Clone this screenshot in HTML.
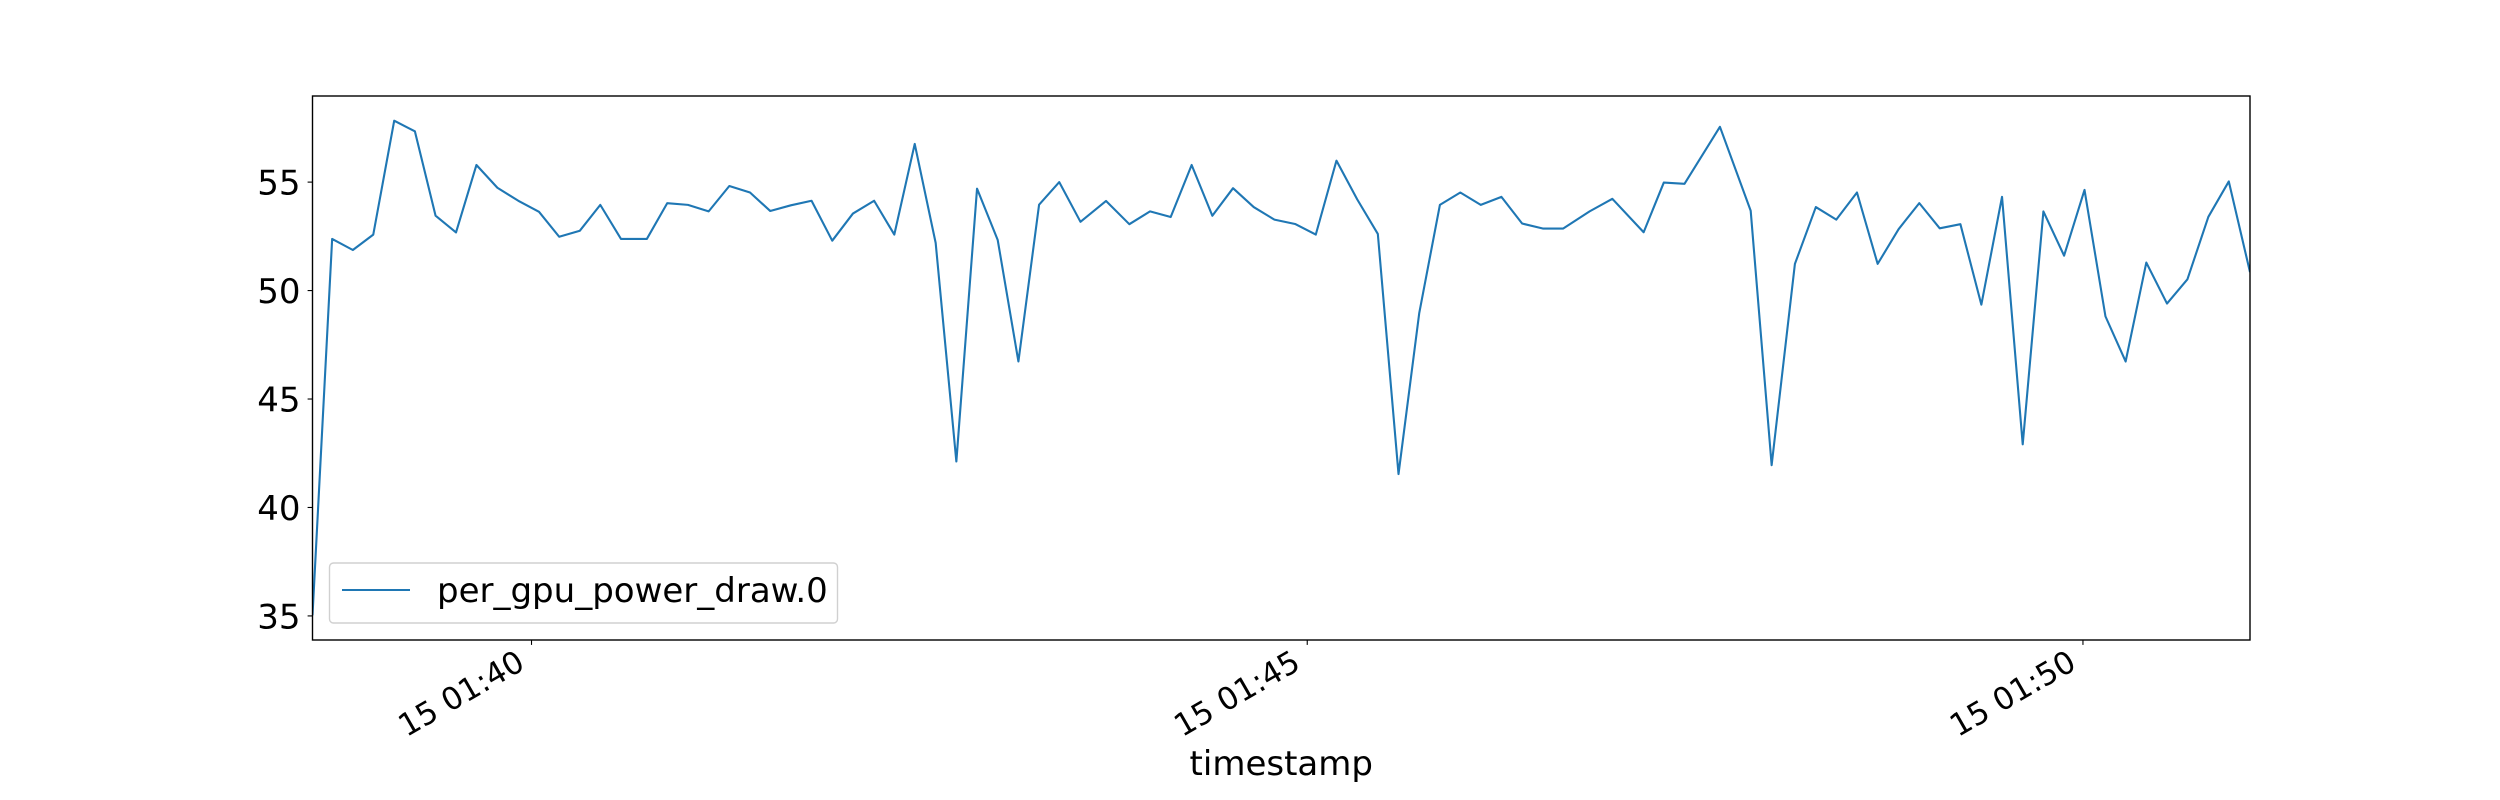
<!DOCTYPE html>
<html><head><meta charset="utf-8"><style>
html,body{margin:0;padding:0;background:#fff;}
svg{display:block;font-family:"DejaVu Sans","Liberation Sans",sans-serif;}
</style></head><body>
<svg id="chart" width="2500" height="800" viewBox="0 0 2500 800" xmlns="http://www.w3.org/2000/svg">
<rect x="0" y="0" width="2500" height="800" fill="#fff"/>
<g id="plot"></g>
</svg>
<script>
// seconds relative to 01:40:00
const timesSec = [-84.7,-77.1,-69.1,-61.2,-53.1,-45.1,-37.1,-29.2,-21.3,-13.2,-5.1,2.9,10.7,18.7,26.6,34.6,44.6,52.5,60.5,68.5,76.5,84.5,92.3,100.3,
108.3,116.3,124.3,132.5,140.3,148.2,156.3,164.3,172.3,180.3,188.3,196.3,204.1,212.3,222.2,231.2,239.2,247.2,255.3,263.3,271.3,279.3,287.3,
295.3,303.3,311.3,319.3,327.3,335.3,343.3,351.3,359.2,367.1,375.1,383.1,391.1,399.0,409.2,418.0,430.1,437.9,445.9,459.6,471.5,
479.6,488.6,496.7,504.6,512.6,520.6,528.7,536.7,544.6,552.6,560.7,568.7,576.7,584.7,592.7,600.6,608.7,616.5,624.5,632.5,640.4,648.5,656.4,664.6];
const powerValues = [35.03,52.38,51.87,52.58,57.83,57.34,53.45,52.68,55.79,54.74,54.14,53.63,52.48,52.76,53.95,52.38,52.38,54.03,53.95,53.65,54.82,54.52,53.67,53.93,
54.14,52.30,53.55,54.14,52.58,56.76,52.20,42.12,54.70,52.33,46.73,53.96,55.00,53.17,54.13,53.06,53.65,53.39,55.79,53.45,54.72,53.85,53.27,
53.07,52.58,55.99,54.21,52.61,41.54,48.95,53.95,54.52,53.95,54.32,53.09,52.86,52.86,53.65,54.23,52.69,54.98,54.92,57.55,53.68,
41.95,51.23,53.85,53.27,54.52,51.23,52.83,54.03,52.87,53.06,49.35,54.32,42.91,53.65,51.61,54.64,48.81,46.73,51.29,49.40,50.52,53.40,55.03,50.85];
const yTicks = [35,40,45,50,55];
const xTickSec = [0,300,600];
const xTickLabels = ["15 01:40","15 01:45","15 01:50"];
const seriesName = "per_gpu_power_draw.0";

const NS="http://www.w3.org/2000/svg";
const L=312.5,R=2250,T=96,B=640;
const FS=34;
const xmin=Math.min(...timesSec), xmax=Math.max(...timesSec);
const vmin=Math.min(...powerValues), vmax=Math.max(...powerValues);
const pad=(vmax-vmin)*0.05, ymin=vmin-pad, ymax=vmax+pad;
const xs=t=>L+(t-xmin)/(xmax-xmin)*(R-L);
const ys=v=>B-(v-ymin)/(ymax-ymin)*(B-T);
const g=document.getElementById('plot');
function mk(tag,attrs,parent){const e=document.createElementNS(NS,tag);for(const k in attrs)e.setAttribute(k,attrs[k]);(parent||g).appendChild(e);return e;}

const pts=timesSec.map((t,i)=>xs(t).toFixed(2)+','+ys(powerValues[i]).toFixed(2)).join(' ');
const clip=mk('clipPath',{id:'cp'});mk('rect',{x:L,y:T,width:R-L,height:B-T},clip);
const line=mk('polyline',{points:pts,fill:'none',stroke:'#1f77b4','stroke-width':2.1,'stroke-linejoin':'round','clip-path':'url(#cp)'});



const fr=mk('rect',{x:L,y:T,width:R-L,height:B-T,fill:'none',stroke:'#000','stroke-width':1.4});



yTicks.forEach(v=>{
  const y=ys(v);
  const tk=mk('line',{x1:L-4.9,x2:L,y1:y,y2:y,stroke:'#000','stroke-width':1.1});
  
  
  const tx=mk('text',{x:L-12,y:y+12.5,'text-anchor':'end','font-size':FS,fill:'#000'});
  tx.textContent=v;
  
  
});
xTickSec.forEach((s,i)=>{
  const x=xs(s);
  const tk=mk('line',{x1:x,x2:x,y1:B,y2:B+4.9,stroke:'#000','stroke-width':1.1});
  
  
  const ax=x-5, ay=668;
  const tx=mk('text',{x:ax,y:ay,'text-anchor':'end','font-size':31,fill:'#000',transform:`rotate(-30 ${ax} ${ay})`});
  tx.textContent=xTickLabels[i];
  
  
});
const xl=mk('text',{x:(L+R)/2,y:775,'text-anchor':'middle','font-size':FS,fill:'#000'});
xl.textContent='timestamp';



const lg=mk('g',{});


mk('rect',{x:329.5,y:563,width:508,height:60,rx:4,fill:'#fff','fill-opacity':0.8,stroke:'#d0d0d0','stroke-width':1.4},lg);
const ls=mk('line',{x1:342,x2:410,y1:590,y2:590,stroke:'#1f77b4','stroke-width':2.1},lg);


const lt=mk('text',{x:437,y:602,'font-size':FS,fill:'#000'},lg);
lt.textContent=seriesName;


</script>
</body></html>
